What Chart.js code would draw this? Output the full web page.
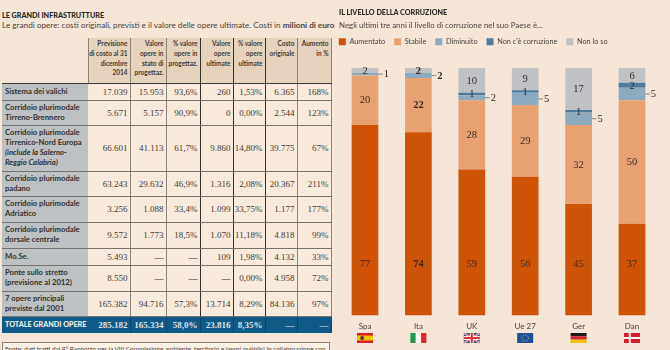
<!DOCTYPE html>
<html>
<head>
<meta charset="utf-8">
<script src="https://cdn.jsdelivr.net/npm/chart.js@4"></script>
<style>
html, body { margin: 0; padding: 0; width: 670px; height: 350px; overflow: hidden; background: #f5e6d8; }
body { position: relative; font-family: "Lato", sans-serif; color: #3a3532; }
.title { position: absolute; font-weight: 900; color: #2c2a28; white-space: nowrap; }
.sub { position: absolute; white-space: nowrap; color: #4a4441; }
#chart-wrap { position: absolute; left: 335px; top: 0; width: 335px; height: 350px; }
#infra { position: absolute; left: 2px; top: 38px; border-collapse: collapse; table-layout: fixed; width: 329px; }
#infra th { background: #e6d3bd; font-size: 6.5px; font-weight: 700; line-height: 9.8px; text-align: right; vertical-align: top; padding: 1px 2px 0 0; height: 45px; box-sizing: border-box; border-right: 1px solid #8b8378; border-bottom: 1px solid #3c3a38; color: #3f3a36; white-space: nowrap; }
#infra th:first-child { background: none; border-right: 1px solid #8b8378; }
#infra td { font-family: "Liberation Serif", serif; font-size: 9px; text-align: right; padding: 0 2px 0 0; box-sizing: border-box; border-right: 1px solid #8b8378; border-bottom: 1px solid #77726b; background: #f8ebdd; color: #3f3a36; white-space: nowrap; }
#infra td.name { font-family: "Lato", sans-serif; font-weight: 700; font-size: 7.7px; line-height: 9.8px; text-align: left; padding-left: 3px; background: #bdc1c3; color: #33302e; border-right: none; }
#infra .dark { border-right-color: #33312f !important; }
#infra tr.total td { background: #0f5a86; color: #dfe5e6; font-weight: 700; border-bottom: none; border-right-color: #0b4668 !important; }
#infra tr.total td.name { background: #0f5a86; color: #f0efe9; font-weight: 900; font-size: 7.2px; }
#source { position: absolute; left: 2px; top: 342px; width: 328px; height: 20px; border: 1px solid #8b8378; background: #f9f0e6; font-size: 6.4px; line-height: 9px; padding: 1px 2px; white-space: nowrap; overflow: hidden; box-sizing: border-box; color: #4a4441; }
</style>
</head>
<body>
<div class="title" style="left:2px;top:10.5px;font-size:7.2px">LE GRANDI INFRASTRUTTURE</div>
<div class="sub" style="left:2px;top:20px;font-size:8.2px">Le grandi opere: costi originali, previsti e il valore delle opere ultimate. Costi in <b>milioni di euro</b></div>
<table id="infra"></table>
<div id="source">Fonte: dati tratti dal 9° Rapporto per la VIII Commissione ambiente, territorio e lavori pubblici in collaborazione con</div>

<div id="chart-wrap"><canvas id="chart" width="335" height="350"></canvas></div>
<div class="title" style="left:339px;top:8px;font-size:7.2px">IL LIVELLO DELLA CORRUZIONE</div>
<div class="sub" style="left:339px;top:20px;font-size:7.9px">Negli ultimi tre anni il livello di corruzione nel suo Paese è...</div>

<script>
// bar chart data
const countries = ['Spa', 'Ita', 'UK', 'Ue 27', 'Ger', 'Dan'];
const aumentato = [77, 74, 59, 56, 45, 37];
const stabile = [20, 22, 28, 29, 32, 50];
const diminuito = [1, 2, 2, 5, 5, 5];
const nonCe = [0, 0, 1, 1, 1, 2];
const nonLoSo = [2, 2, 10, 9, 17, 6];

// table data
const tableHead = ['', 'Previsione<br>di costo al 31<br>dicembre<br>2014', 'Valore<br>opere in<br>stato di<br>progettaz.', '% valore<br>opere in<br>progettaz.', 'Valore<br>opere<br>ultimate', '% valore<br>opere<br>ultimate', 'Costo<br>originale', 'Aumento<br>in %'];
const rowNames = ['Sistema dei valichi', 'Corridoio plurimodale<br>Tirreno-Brennero', 'Corridoio plurimodale<br>Tirrenico-Nord Europa<br><i>(include la Salerno-<br>Reggio Calabria)</i>', 'Corridoio plurimodale<br>padano', 'Corridoio plurimodale<br>Adriatico', 'Corridoio plurimodale<br>dorsale centrale', 'Mo.Se.', 'Ponte sullo stretto<br>(previsione al 2012)', '7 opere principali<br>previste dal 2001', 'TOTALE GRANDI OPERE'];
const previsione = ['17.039', '5.671', '66.601', '63.243', '3.256', '9.572', '5.493', '8.550', '165.382', '285.182'];
const valoreProgett = ['15.953', '5.157', '41.113', '29.632', '1.088', '1.773', '—', '—', '94.716', '165.334'];
const percProgett = ['93,6%', '90,9%', '61,7%', '46,9%', '33,4%', '18,5%', '—', '—', '57,3%', '58,0%'];
const valoreUltimate = ['260', '0', '9.860', '1.316', '1.099', '1.070', '109', '—', '13.714', '23.816'];
const percUltimate = ['1,53%', '0,00%', '14,80%', '2,08%', '33,75%', '11,18%', '1,98%', '0,00%', '8,29%', '8,35%'];
const costoOriginale = ['6.365', '2.544', '39.775', '20.367', '1.177', '4.818', '4.132', '4.958', '84.136', '—'];
const aumentoPerc = ['168%', '123%', '67%', '211%', '177%', '99%', '33%', '72%', '97%', '—'];

const colWidths = [86, 42, 36, 34, 33, 32, 32, 34];
const rowHeights = [17, 25, 46, 25, 26, 26, 17, 26, 25, 17];
const darkCols = [3, 4, 5];

function buildTable() {
    const columns = [previsione, valoreProgett, percProgett, valoreUltimate, percUltimate, costoOriginale, aumentoPerc];
    let html = '<colgroup>' + colWidths.map(w => `<col style="width:${w}px">`).join('') + '</colgroup>';
    html += '<tr>' + tableHead.map((h, i) => `<th class="${darkCols.includes(i) ? 'dark' : ''}">${h}</th>`).join('') + '</tr>';
    rowNames.forEach((name, r) => {
        html += `<tr class="${r === rowNames.length - 1 ? 'total' : ''}" style="height:${rowHeights[r]}px">`;
        html += `<td class="name">${name}</td>`;
        columns.forEach((col, c) => {
            html += `<td class="${darkCols.includes(c + 1) ? 'dark' : ''}">${col[r]}</td>`;
        });
        html += '</tr>';
    });
    document.getElementById('infra').innerHTML = html;
}
buildTable();

// numbers on the bars, Diminuito goes outside with a small leader
const segmentLabels = {
    id: 'segmentLabels',
    afterDatasetsDraw(chart) {
        const ctx = chart.ctx;
        const yScale = chart.scales.y;
        ctx.save();
        ctx.textBaseline = 'middle';
        chart.data.datasets.forEach((ds, d) => {
            chart.getDatasetMeta(d).data.forEach((bar, i) => {
                const v = ds.data[i];
                if (!v) return;
                // the first series is labelled at one common height
                const y = d === 0 ? yScale.getPixelForValue(21) : (bar.y + bar.base) / 2;
                ctx.fillStyle = '#3a2a20';
                ctx.font = (i === 1 ? 'bold ' : '') + '10.5px "Liberation Serif", serif';
                if (d === 2) {
                    const right = bar.x + bar.width / 2;
                    ctx.strokeStyle = '#6b6560';
                    ctx.lineWidth = 0.8;
                    ctx.beginPath();
                    ctx.moveTo(right, y);
                    ctx.lineTo(right + 4.5, y);
                    ctx.stroke();
                    ctx.textAlign = 'left';
                    ctx.fillText(v, right + 5.5, y + 0.5);
                } else {
                    ctx.textAlign = 'center';
                    ctx.fillText(v, bar.x, y + 0.5);
                }
            });
        });
        ctx.restore();
    }
};

function drawFlag(ctx, name, x, y, w, h) {
    const bands = (list, vertical) => list.forEach((c, i) => {
        ctx.fillStyle = c;
        if (vertical) ctx.fillRect(x + i * w / list.length, y, w / list.length, h);
        else ctx.fillRect(x, y + i * h / list.length, w, h / list.length);
    });
    if (name === 'Spa') {
        ctx.fillStyle = '#d8202c'; ctx.fillRect(x, y, w, h);
        ctx.fillStyle = '#f5c400'; ctx.fillRect(x, y + h / 4, w, h / 2);
        ctx.fillStyle = '#5a3a20'; ctx.beginPath(); ctx.arc(x + w * 0.32, y + h / 2, 2, 0, Math.PI * 2); ctx.fill();
    } else if (name === 'Ita') {
        bands(['#1f9a4c', '#fbf6ee', '#e0262e'], true);
    } else if (name === 'UK') {
        ctx.fillStyle = '#2d4a8a'; ctx.fillRect(x, y, w, h);
        ctx.strokeStyle = '#f4e9e4'; ctx.lineWidth = 2;
        ctx.beginPath(); ctx.moveTo(x, y); ctx.lineTo(x + w, y + h); ctx.moveTo(x + w, y); ctx.lineTo(x, y + h); ctx.stroke();
        ctx.strokeStyle = '#d8353f'; ctx.lineWidth = 0.8;
        ctx.beginPath(); ctx.moveTo(x, y); ctx.lineTo(x + w, y + h); ctx.moveTo(x + w, y); ctx.lineTo(x, y + h); ctx.stroke();
        ctx.fillStyle = '#f4e9e4'; ctx.fillRect(x + w / 2 - 2, y, 4, h); ctx.fillRect(x, y + h / 2 - 2, w, 4);
        ctx.fillStyle = '#d8353f'; ctx.fillRect(x + w / 2 - 1, y, 2, h); ctx.fillRect(x, y + h / 2 - 1, w, 2);
    } else if (name === 'Ue 27') {
        ctx.fillStyle = '#1f4f96'; ctx.fillRect(x, y, w, h);
        ctx.strokeStyle = '#d8c24a'; ctx.lineWidth = 0.8; ctx.setLineDash([1, 1]);
        ctx.beginPath(); ctx.arc(x + w / 2, y + h / 2, 3.2, 0, Math.PI * 2); ctx.stroke();
        ctx.setLineDash([]);
    } else if (name === 'Ger') {
        bands(['#1c1a18', '#d8202c', '#f5c000'], false);
    } else if (name === 'Dan') {
        ctx.fillStyle = '#d8202c'; ctx.fillRect(x, y, w, h);
        ctx.fillStyle = '#fbf6ee'; ctx.fillRect(x + w * 0.3, y, 2, h); ctx.fillRect(x, y + h / 2 - 1, w, 2);
    }
}

const flags = {
    id: 'flags',
    afterDraw(chart) {
        const xs = chart.scales.x;
        countries.forEach((c, i) => drawFlag(chart.ctx, c, xs.getPixelForValue(i) - 8, 333, 16, 10));
    }
};

// stretch the legend box so the plot starts where the bars start,
// and pull the items back over the padding Chart.js puts on the left
const legendGap = {
    id: 'legendGap',
    beforeInit(chart) {
        const legend = chart.legend;
        const fit = legend.fit;
        const draw = legend.draw;
        legend.fit = function () {
            fit.call(this);
            this.height = 39;
        };
        legend.draw = function () {
            chart.ctx.save();
            chart.ctx.translate(-8.5, 0);
            draw.call(this);
            chart.ctx.restore();
        };
    }
};

new Chart(document.getElementById('chart'), {
    type: 'bar',
    data: {
        labels: countries,
        datasets: [
            { label: 'Aumentato', data: aumentato, backgroundColor: '#cf5306' },
            { label: 'Stabile', data: stabile, backgroundColor: '#e8a272' },
            { label: 'Diminuito', data: diminuito, backgroundColor: '#8dabbf' },
            { label: "Non c'è corruzione", data: nonCe, backgroundColor: '#4e7a9b' },
            { label: 'Non lo so', data: nonLoSo, backgroundColor: '#bfc1c4' }
        ]
    },
    options: {
        responsive: false,
        animation: false,
        barPercentage: 0.5,
        categoryPercentage: 1,
        layout: { padding: { left: 3.3, right: 11.3, top: 29, bottom: 13 } },
        plugins: {
            legend: {
                position: 'top',
                align: 'start',
                labels: { boxWidth: 7, boxHeight: 7, padding: 9, color: '#4a4441', font: { family: 'Lato', size: 7.3 } }
            },
            tooltip: { enabled: false }
        },
        scales: {
            x: {
                stacked: true,
                grid: { display: false, drawTicks: false },
                border: { display: false },
                ticks: { color: '#4a4441', font: { family: 'Lato', size: 8 }, padding: 6, maxRotation: 0 }
            },
            y: { stacked: true, display: false, min: 0, max: 100 }
        }
    },
    plugins: [legendGap, segmentLabels, flags]
});
</script>
</body>
</html>
